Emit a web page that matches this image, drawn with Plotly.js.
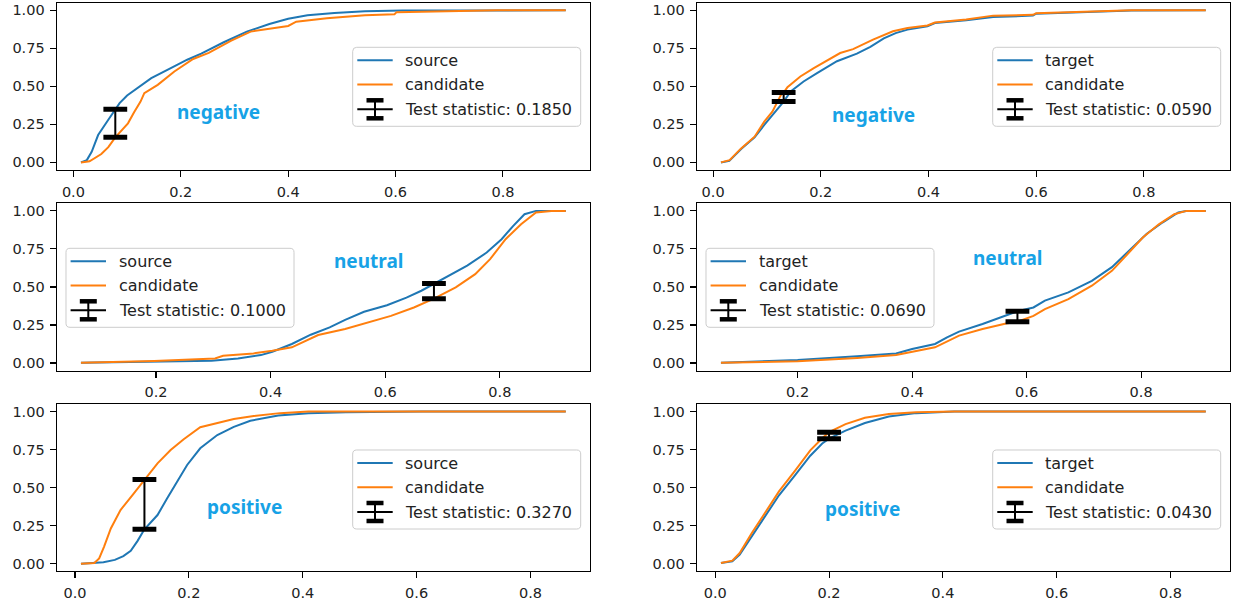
<!DOCTYPE html>
<html><head><meta charset="utf-8">
<script src="https://cdn.plot.ly/plotly-3.0.1.min.js"></script>
<style>html,body{margin:0;padding:0;background:#fff}#chart{width:1234px;height:608px}</style>
</head><body><div id="chart"></div>
<script>
// ---------- DATA ----------
// negative, left: source vs candidate
const negSourceX = [0.014,0.025,0.034,0.046,0.065,0.078,0.086,0.10,0.114,0.145,0.175,0.212,0.238,0.28,0.323,0.365,0.40,0.436,0.486,0.543,0.613,0.72,0.917];
const negSourceY = [0,0.015,0.07,0.18,0.28,0.35,0.39,0.44,0.477,0.554,0.609,0.675,0.715,0.79,0.86,0.91,0.945,0.967,0.982,0.993,0.998,1.0,1.0];
const negCandLX = [0.014,0.03,0.052,0.065,0.078,0.09,0.1016,0.113,0.125,0.132,0.157,0.188,0.223,0.252,0.294,0.33,0.365,0.40,0.415,0.472,0.543,0.598,0.602,0.72,0.79,0.917];
const negCandLY = [0,0.007,0.055,0.10,0.165,0.21,0.257,0.33,0.40,0.455,0.51,0.598,0.68,0.72,0.80,0.86,0.88,0.897,0.925,0.947,0.967,0.974,0.988,0.996,1.0,1.0];
// negative, right: target vs candidate
const negTargetX = [0.0145,0.03,0.052,0.077,0.095,0.113,0.131,0.144,0.168,0.193,0.23,0.267,0.292,0.317,0.339,0.361,0.398,0.412,0.47,0.52,0.594,0.60,0.704,0.777,0.915];
const negTargetY = [0,0.01,0.088,0.165,0.246,0.323,0.40,0.466,0.532,0.587,0.665,0.715,0.76,0.815,0.85,0.873,0.895,0.916,0.934,0.956,0.965,0.978,0.987,0.998,1.0];
const negCandRX = [0.0145,0.0305,0.052,0.077,0.095,0.11,0.126,0.131,0.138,0.162,0.187,0.236,0.26,0.297,0.334,0.361,0.398,0.412,0.47,0.52,0.594,0.60,0.704,0.777,0.915];
const negCandRY = [0,0.015,0.092,0.169,0.268,0.334,0.444,0.459,0.495,0.565,0.62,0.719,0.745,0.807,0.862,0.883,0.9,0.92,0.94,0.965,0.97,0.98,0.992,1.0,1.0];
// neutral, left
const neuSourceX = [0.069,0.197,0.297,0.343,0.383,0.403,0.437,0.47,0.503,0.53,0.563,0.603,0.637,0.663,0.685,0.71,0.743,0.777,0.803,0.823,0.843,0.863,0.915];
const neuSourceY = [0.002,0.009,0.015,0.03,0.052,0.074,0.125,0.186,0.234,0.284,0.337,0.38,0.43,0.475,0.52,0.567,0.64,0.726,0.814,0.90,0.978,1.0,1.0];
const neuCandLX = [0.069,0.197,0.303,0.317,0.37,0.403,0.437,0.463,0.483,0.53,0.57,0.61,0.65,0.685,0.723,0.757,0.783,0.81,0.837,0.863,0.89,0.915];
const neuCandLY = [0.002,0.013,0.03,0.048,0.063,0.08,0.103,0.147,0.184,0.223,0.267,0.31,0.365,0.423,0.497,0.584,0.683,0.814,0.912,0.99,1.0,1.0];
// neutral, right
const neuTargetX = [0.066,0.2,0.304,0.372,0.40,0.44,0.461,0.482,0.523,0.564,0.584,0.612,0.632,0.673,0.714,0.749,0.783,0.81,0.838,0.865,0.879,0.913];
const neuTargetY = [0.002,0.02,0.044,0.063,0.092,0.125,0.168,0.206,0.256,0.31,0.34,0.365,0.41,0.464,0.54,0.63,0.75,0.85,0.925,0.99,1.0,1.0];
const neuCandRX = [0.066,0.2,0.304,0.372,0.44,0.461,0.482,0.523,0.564,0.584,0.612,0.632,0.673,0.714,0.749,0.776,0.803,0.831,0.858,0.879,0.913];
const neuCandRY = [0.002,0.011,0.033,0.052,0.103,0.14,0.18,0.223,0.26,0.271,0.31,0.354,0.42,0.508,0.606,0.715,0.825,0.912,0.978,1.0,1.0];
// positive, left
const posSourceX = [0.0105,0.03,0.05,0.07,0.085,0.098,0.11,0.122,0.133,0.145,0.162,0.18,0.197,0.22,0.25,0.279,0.308,0.357,0.41,0.476,0.61,0.862];
const posSourceY = [0,0.004,0.01,0.025,0.05,0.085,0.15,0.226,0.27,0.32,0.43,0.539,0.649,0.759,0.846,0.9,0.94,0.975,0.99,0.995,1.0,1.0];
const posCandLX = [0.0105,0.034,0.0425,0.051,0.063,0.08,0.101,0.122,0.145,0.168,0.191,0.22,0.25,0.279,0.314,0.36,0.41,0.862];
const posCandLY = [0,0.004,0.035,0.111,0.232,0.353,0.451,0.553,0.66,0.747,0.818,0.897,0.927,0.951,0.971,0.99,1.0,1.0];
// positive, right
const posTargetX = [0.01,0.03,0.043,0.064,0.085,0.112,0.14,0.167,0.188,0.2,0.229,0.263,0.305,0.353,0.42,0.862];
const posTargetY = [0.004,0.015,0.06,0.18,0.30,0.45,0.58,0.71,0.79,0.822,0.875,0.925,0.968,0.99,1.0,1.0];
const posCandRX = [0.01,0.03,0.043,0.064,0.085,0.112,0.14,0.167,0.188,0.2,0.229,0.263,0.305,0.353,0.42,0.862];
const posCandRY = [0.004,0.02,0.07,0.2,0.32,0.475,0.61,0.745,0.825,0.865,0.918,0.96,0.985,0.996,1.0,1.0];

// test statistic markers, panel order: negL, negR, neuL, neuR, posL, posR
const errX  = [0.078, 0.131, 0.685, 0.584, 0.122, 0.2];
const errLo = [0.165, 0.400, 0.423, 0.271, 0.226, 0.822];
const errHi = [0.350, 0.459, 0.523, 0.340, 0.553, 0.865];
const testStats = [0.1850, 0.0590, 0.1000, 0.0690, 0.3270, 0.0430];
const panelLabels = ['negative','negative','neutral','neutral','positive','positive'];
const refNames = ['source','target','source','target','source','target'];
const candName = 'candidate';
const yTicks = [0, 0.25, 0.5, 0.75, 1.0];

// ---------- LAYOUT ----------
const W = 1234, H = 608;
const BLUE = '#1f77b4', ORANGE = '#ff7f0e', TXT = '#222222', LABEL = '#17a2e6';
const colDom = [[56.7, 590], [696.7, 1230]];
const rowDom = [[2.7, 170], [203.3, 370.6], [404, 571.3]];
const series = [
  [negSourceX, negSourceY, negCandLX, negCandLY],
  [negTargetX, negTargetY, negCandRX, negCandRY],
  [neuSourceX, neuSourceY, neuCandLX, neuCandLY],
  [neuTargetX, neuTargetY, neuCandRX, neuCandRY],
  [posSourceX, posSourceY, posCandLX, posCandLY],
  [posTargetX, posTargetY, posCandRX, posCandRY]
];
// legend box top-left (px) and label position (fraction of plot area)
const legPos = [[352.7,47.3],[992.7,47.3],[66,248.3],[706,248.3],[352.7,450],[992.7,450]];
const labPos = [[0.304,0.347],[0.332,0.329],[0.584,0.655],[0.583,0.671],[0.353,0.386],[0.31,0.371]];

const X = v => v / W, Y = v => 1 - v / H;
function rrect(x0, y0, w, h, r) {
  const p = (a, b) => X(a).toFixed(5) + ',' + Y(b).toFixed(5);
  return 'M' + p(x0 + r, y0) + ' L' + p(x0 + w - r, y0) + ' Q' + p(x0 + w, y0) + ' ' + p(x0 + w, y0 + r) +
    ' L' + p(x0 + w, y0 + h - r) + ' Q' + p(x0 + w, y0 + h) + ' ' + p(x0 + w - r, y0 + h) +
    ' L' + p(x0 + r, y0 + h) + ' Q' + p(x0, y0 + h) + ' ' + p(x0, y0 + h - r) +
    ' L' + p(x0, y0 + r) + ' Q' + p(x0, y0) + ' ' + p(x0 + r, y0) + ' Z';
}
const pxLine = (x0, y0, x1, y1, color, width) => ({type:'line', xref:'paper', yref:'paper', layer:'above',
  x0: X(x0), y0: Y(y0), x1: X(x1), y1: Y(y1), line:{color:color, width:width}});

const layout = {
  width: W, height: H, margin:{l:0, r:0, t:0, b:0}, showlegend:false,
  paper_bgcolor:'#ffffff', plot_bgcolor:'#ffffff', shapes:[], annotations:[]
};
const traces = [];
const tickFont = {family:'DejaVu Sans', size:14.5, color:TXT};

series.forEach((s, i) => {
  const suf = i === 0 ? '' : String(i + 1);
  const row = Math.floor(i / 2), col = i % 2;
  const allX = s[0].concat(s[2]);
  const xmin = Math.min(...allX), xmax = Math.max(...allX), pad = 0.05 * (xmax - xmin);
  layout['xaxis' + suf] = {
    domain:[X(colDom[col][0]), X(colDom[col][1])], anchor:'y' + suf,
    range:[xmin - pad, xmax + pad], tick0:0, dtick:0.2, tickformat:'.1f',
    showline:true, mirror:true, linecolor:'#000', linewidth:1.1, ticks:'outside', ticklen:6, tickwidth:1.1, tickcolor:'#000',
    showgrid:false, zeroline:false, tickfont:tickFont, ticklabelstandoff:2
  };
  layout['yaxis' + suf] = {
    domain:[Y(rowDom[row][1]), Y(rowDom[row][0])], anchor:'x' + suf,
    range:[-0.05, 1.05], tickvals:yTicks, tickformat:'.2f',
    showline:true, mirror:true, linecolor:'#000', linewidth:1.1, ticks:'outside', ticklen:6, tickwidth:1.1, tickcolor:'#000',
    showgrid:false, zeroline:false, tickfont:tickFont, ticklabelstandoff:2
  };
  traces.push({type:'scatter', mode:'lines', x:s[0], y:s[1], name:refNames[i], xaxis:'x' + suf, yaxis:'y' + suf,
    line:{color:BLUE, width:2}, hoverinfo:'skip'});
  traces.push({type:'scatter', mode:'lines', x:s[2], y:s[3], name:candName, xaxis:'x' + suf, yaxis:'y' + suf,
    line:{color:ORANGE, width:2}, hoverinfo:'skip'});
  traces.push({type:'scatter', mode:'lines+markers', x:[errX[i], errX[i]], y:[errLo[i], errHi[i]],
    name:'Test statistic: ' + testStats[i].toFixed(4), xaxis:'x' + suf, yaxis:'y' + suf,
    line:{color:'#000', width:2}, marker:{symbol:'line-ew', size:17, color:'#000', line:{color:'#000', width:5}}, hoverinfo:'skip'});

  // panel label
  layout.annotations.push({xref:'x' + suf + ' domain', yref:'y' + suf + ' domain', x:labPos[i][0], y:labPos[i][1],
    xanchor:'center', yanchor:'middle', showarrow:false, text:panelLabels[i],
    font:{family:'Noto Sans', size:19, color:LABEL, weight:'bold'}});

  // legend
  const lx = legPos[i][0], ly = legPos[i][1];
  layout.shapes.push({type:'path', xref:'paper', yref:'paper', layer:'above', path:rrect(lx, ly, 228, 79, 4),
    fillcolor:'rgba(255,255,255,0.8)', line:{color:'#cccccc', width:1}});
  const rows = [ly + 13, ly + 37.3, ly + 62];
  const g0 = lx + 4.6, g1 = lx + 40, gc = lx + 22.3;
  layout.shapes.push(pxLine(g0, rows[0], g1, rows[0], BLUE, 2));
  layout.shapes.push(pxLine(g0, rows[1], g1, rows[1], ORANGE, 2));
  layout.shapes.push(pxLine(g0, rows[2], g1, rows[2], '#000', 2));
  layout.shapes.push(pxLine(gc, rows[2] - 9, gc, rows[2] + 9, '#000', 2));
  layout.shapes.push(pxLine(gc - 8.5, rows[2] - 9, gc + 8.5, rows[2] - 9, '#000', 4.5));
  layout.shapes.push(pxLine(gc - 8.5, rows[2] + 9, gc + 8.5, rows[2] + 9, '#000', 4.5));
  const texts = [refNames[i], candName, 'Test statistic: ' + testStats[i].toFixed(4)];
  texts.forEach((t, k) => layout.annotations.push({xref:'paper', yref:'paper', x:X(lx + 50.5), y:Y(rows[k]),
    xanchor:'left', yanchor:'middle', showarrow:false, text:t,
    font:{family:'DejaVu Sans', size:16, color:TXT}}));
});

Plotly.newPlot('chart', traces, layout, {displayModeBar:false, staticPlot:true});
</script>
</body></html>
